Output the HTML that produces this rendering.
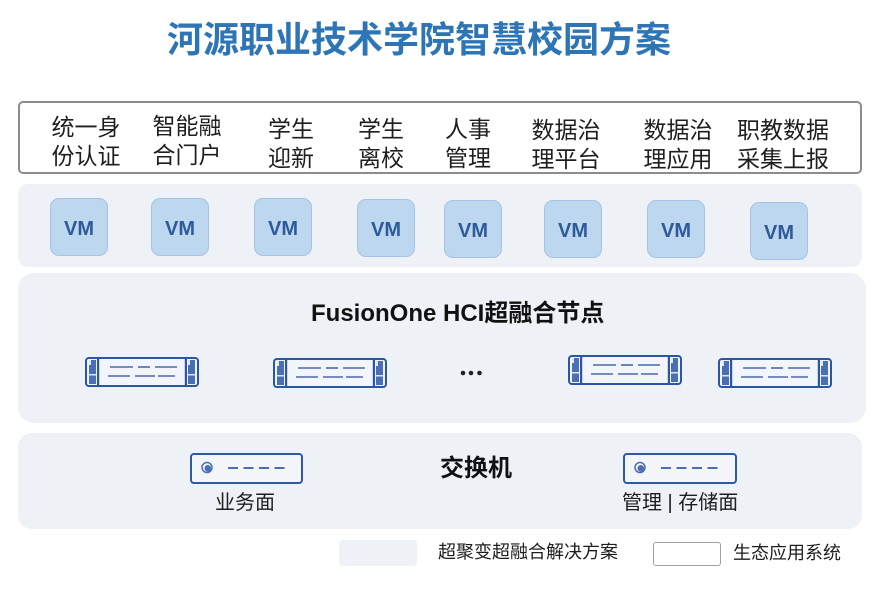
<!DOCTYPE html>
<html><head><meta charset="utf-8">
<style>
html,body{margin:0;padding:0;}
body{width:879px;height:591px;position:relative;background:#fff;overflow:hidden;font-family:"Liberation Sans","Noto Sans CJK SC",sans-serif;color:#1e1e1e;}
.a{position:absolute;}
.title{left:167px;top:20px;font-size:36px;line-height:40px;font-weight:bold;color:#2e75b6;white-space:nowrap;}
.appbox{left:18px;top:101px;width:840px;height:69px;border:2px solid #8c8c8c;border-radius:5px;}
.app{position:absolute;width:120px;text-align:center;font-size:23px;line-height:28.5px;white-space:nowrap;}
.panel{position:absolute;background:#eef1f5;}
.vm{position:absolute;width:56px;height:56px;background:#bdd7ee;border:1.5px solid #a6c3e7;border-radius:9px;color:#2e5a9c;font-size:20px;font-weight:bold;text-align:center;line-height:61px;}
.lbl{position:absolute;font-size:20px;line-height:24px;white-space:nowrap;}
.leg{position:absolute;font-size:18px;line-height:22px;white-space:nowrap;}
</style></head><body>

<div class="a title">河源职业技术学院智慧校园方案</div>

<div class="a appbox"></div>
<div class="app" style="left:26px;top:113px;">统一身<br>份认证</div>
<div class="app" style="left:127px;top:112px;">智能融<br>合门户</div>
<div class="app" style="left:231px;top:115px;">学生<br>迎新</div>
<div class="app" style="left:321px;top:115px;">学生<br>离校</div>
<div class="app" style="left:408px;top:115px;">人事<br>管理</div>
<div class="app" style="left:506px;top:116px;">数据治<br>理平台</div>
<div class="app" style="left:618px;top:116px;">数据治<br>理应用</div>
<div class="app" style="left:723px;top:116px;">职教数据<br>采集上报</div>

<div class="panel" style="left:18px;top:184px;width:844px;height:83px;border-radius:10px;"></div>
<div class="vm" style="left:50px;top:198px;">VM</div>
<div class="vm" style="left:151px;top:198px;">VM</div>
<div class="vm" style="left:254px;top:198px;">VM</div>
<div class="vm" style="left:357px;top:199px;">VM</div>
<div class="vm" style="left:444px;top:200px;">VM</div>
<div class="vm" style="left:544px;top:200px;">VM</div>
<div class="vm" style="left:647px;top:200px;">VM</div>
<div class="vm" style="left:750px;top:202px;">VM</div>

<div class="panel" style="left:18px;top:273px;width:848px;height:150px;border-radius:16px;"></div>
<div class="a" style="left:311px;top:300px;font-size:24px;line-height:28px;font-weight:bold;white-space:nowrap;color:#111;">FusionOne HCI超融合节点</div>

<svg class="a" style="left:0;top:0;" width="879" height="591" xmlns="http://www.w3.org/2000/svg">
<defs>
<g id="srv">
  <rect x="1" y="1" width="112" height="28" rx="3" fill="#f2f5fb" stroke="#2b56a3" stroke-width="2"/>
  <rect x="4" y="3" width="7" height="24" fill="#4a6fb5"/>
  <rect x="4" y="3" width="2" height="5" fill="#dfe6f3"/>
  <rect x="4" y="17" width="7" height="1.5" fill="#dfe6f3"/>
  <rect x="12" y="1" width="2.2" height="28" fill="#2b56a3"/>
  <rect x="103" y="3" width="7" height="24" fill="#4a6fb5"/>
  <rect x="103" y="3" width="2" height="5" fill="#dfe6f3"/>
  <rect x="103" y="17" width="7" height="1.5" fill="#dfe6f3"/>
  <rect x="99.8" y="1" width="2.2" height="28" fill="#2b56a3"/>
  <g stroke="#4a6aaa" stroke-width="1.6">
    <line x1="25" y1="10" x2="48" y2="10"/>
    <line x1="53" y1="10" x2="65" y2="10"/>
    <line x1="70" y1="10" x2="92" y2="10"/>
    <line x1="23" y1="19" x2="45" y2="19"/>
    <line x1="50" y1="19" x2="70" y2="19"/>
    <line x1="73" y1="19" x2="90" y2="19"/>
  </g>
</g>
</defs>
<use href="#srv" x="85" y="357"/>
<use href="#srv" x="273" y="358"/>
<use href="#srv" x="568" y="355"/>
<use href="#srv" x="718" y="358"/>
<circle cx="463" cy="373" r="2.3" fill="#222"/>
<circle cx="471" cy="373" r="2.3" fill="#222"/>
<circle cx="479.5" cy="373" r="2.3" fill="#222"/>
</svg>

<div class="panel" style="left:18px;top:433px;width:844px;height:96px;border-radius:14px;"></div>
<svg class="a" style="left:190px;top:453px;" width="114" height="32" xmlns="http://www.w3.org/2000/svg">
  <rect x="1" y="1" width="111" height="29" rx="3" fill="#f3f5f9" stroke="#2e5aa0" stroke-width="2"/>
  <circle cx="17" cy="14.5" r="5" fill="none" stroke="#4a6fb5" stroke-width="1.5"/>
  <circle cx="17.8" cy="15.3" r="3.3" fill="#4a6fb5"/>
  <g stroke="#4a6fb5" stroke-width="2">
    <line x1="38" y1="15" x2="48" y2="15"/>
    <line x1="53.5" y1="15" x2="63.5" y2="15"/>
    <line x1="69" y1="15" x2="79" y2="15"/>
    <line x1="84.5" y1="15" x2="94.5" y2="15"/>
  </g>
</svg>
<svg class="a" style="left:623px;top:453px;" width="115" height="32" xmlns="http://www.w3.org/2000/svg">
  <rect x="1" y="1" width="112" height="29" rx="3" fill="#f3f5f9" stroke="#2e5aa0" stroke-width="2"/>
  <circle cx="17" cy="14.5" r="5" fill="none" stroke="#4a6fb5" stroke-width="1.5"/>
  <circle cx="17.8" cy="15.3" r="3.3" fill="#4a6fb5"/>
  <g stroke="#4a6fb5" stroke-width="2">
    <line x1="38" y1="15" x2="48" y2="15"/>
    <line x1="53.5" y1="15" x2="63.5" y2="15"/>
    <line x1="69" y1="15" x2="79" y2="15"/>
    <line x1="84.5" y1="15" x2="94.5" y2="15"/>
  </g>
</svg>
<div class="a" style="left:440px;top:455px;font-size:24px;line-height:28px;font-weight:bold;white-space:nowrap;color:#111;">交换机</div>
<div class="lbl" style="left:215px;top:491px;">业务面</div>
<div class="lbl" style="left:622px;top:491px;">管理 | 存储面</div>

<div class="a" style="left:339px;top:540px;width:78px;height:26px;background:#eef1f5;border-radius:4px;"></div>
<div class="leg" style="left:438px;top:541px;">超聚变超融合解决方案</div>
<div class="a" style="left:653px;top:542px;width:66px;height:22px;border:1.5px solid #a0a0a0;border-radius:3px;background:#fff;"></div>
<div class="leg" style="left:733px;top:542px;">生态应用系统</div>

</body></html>
